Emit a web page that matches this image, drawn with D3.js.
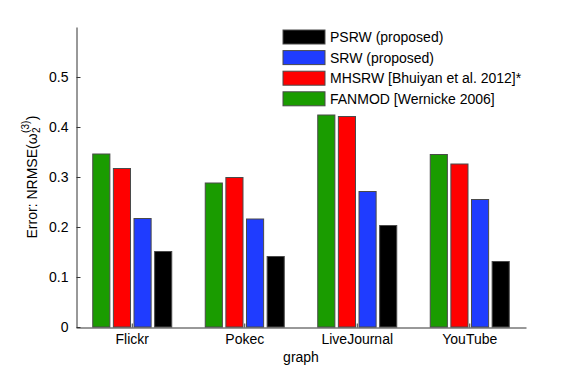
<!DOCTYPE html>
<html>
<head>
<meta charset="utf-8">
<script src="https://cdn.jsdelivr.net/npm/d3@7"></script>
<style>
  body { margin: 0; background: #fff; }
  svg { display: block; font-family: "Liberation Sans", Arial, Helvetica, sans-serif; }
</style>
</head>
<body>
<div id="chart"></div>
<script>
// data
var graphs = ['Flickr', 'Pokec', 'LiveJournal', 'YouTube'];
var methods = ['FANMOD', 'MHSRW', 'SRW', 'PSRW'];   // order of bars inside a group
var legendOrder = ['PSRW', 'SRW', 'MHSRW', 'FANMOD'];
var legendLabels = {
	PSRW: 'PSRW (proposed)',
	SRW: 'SRW (proposed)',
	MHSRW: 'MHSRW [Bhuiyan et al. 2012]*',
	FANMOD: 'FANMOD [Wernicke 2006]'
};
var colors = { FANMOD: '#1a9c00', MHSRW: '#ff0000', SRW: '#1f3cff', PSRW: '#000000' };

var fanmod = [0.346, 0.288, 0.424, 0.345];
var mhsrw  = [0.317, 0.299, 0.421, 0.326];
var srw    = [0.217, 0.216, 0.271, 0.255];
var psrw   = [0.151, 0.141, 0.203, 0.131];
var yTicks = [0, 0.1, 0.2, 0.3, 0.4, 0.5];

var values = { FANMOD: fanmod, MHSRW: mhsrw, SRW: srw, PSRW: psrw };

var W = 581, H = 369;
var svg = d3.select('#chart').append('svg')
	.attr('width', W)
	.attr('height', H);

// scales
var x0 = d3.scaleBand().domain(graphs).range([76, 526]);
var x1 = d3.scaleBand().domain(methods).range([-39.5, 39.5]).paddingInner(0.17);
var y = d3.scaleLinear().domain([0, 0.6]).range([327, 27]);

// bars
graphs.forEach(function(g, gi) {
	var cx = x0(g) + x0.bandwidth() / 2;
	methods.forEach(function(m) {
		svg.append('rect')
			.attr('x', cx + x1(m))
			.attr('y', y(values[m][gi]))
			.attr('width', x1.bandwidth())
			.attr('height', y(0) - y(values[m][gi]))
			.style('fill', colors[m])
			.style('stroke', '#4a4a4a')
			.style('stroke-width', 1);
	});
});

// y axis
var yAxis = d3.axisLeft(y)
	.tickValues(yTicks)
	.tickFormat(function(d) { return d === 0 ? '0' : d3.format('.1f')(d); })
	.tickSizeInner(-4)
	.tickSizeOuter(0)
	.tickPadding(8);
var gy = svg.append('g')
	.attr('transform', 'translate(76.5,0)')
	.call(yAxis);
gy.select('.domain').attr('stroke', '#333');
gy.selectAll('.tick line').attr('stroke', '#333');
gy.selectAll('.tick text').style('font-size', '14px').attr('fill', '#000');

// x axis
var xAxis = d3.axisBottom(x0)
	.tickSizeInner(-4)
	.tickSizeOuter(0)
	.tickPadding(7);
var gx = svg.append('g')
	.attr('transform', 'translate(0,327.5)')
	.call(xAxis);
gx.select('.domain').attr('stroke', '#333');
gx.selectAll('.tick line').attr('stroke', '#333');
gx.selectAll('.tick text').style('font-size', '14px').attr('fill', '#000');

// x label
svg.append('text')
	.attr('x', 301)
	.attr('y', 362)
	.attr('text-anchor', 'middle')
	.style('font-size', '14px')
	.text('graph');

// y label with stacked sub/superscript
var yl = svg.append('g').attr('transform', 'translate(37,177) rotate(-90)');
var t1 = yl.append('text').style('font-size', '14px').text('Error: NRMSE(\u03c9');
var w1 = t1.node().getComputedTextLength();
var sub = yl.append('text').style('font-size', '10px').attr('y', 3).text('2');
var sup = yl.append('text').style('font-size', '10px').attr('y', -8).text('(3)');
var wSub = sub.node().getComputedTextLength();
var wSup = sup.node().getComputedTextLength();
var wScript = Math.max(wSub, wSup);
var close = yl.append('text').style('font-size', '14px').text(')');
var total = w1 + wScript + close.node().getComputedTextLength() + 1;
var x0l = -total / 2;
t1.attr('x', x0l);
sub.attr('x', x0l + w1 + 0.5);
sup.attr('x', x0l + w1 + 0.5);
close.attr('x', x0l + w1 + wScript + 1);

// legend
var legend = svg.append('g');
legendOrder.forEach(function(m, i) {
	var cy = 37 + i * 20.6;
	legend.append('rect')
		.attr('x', 283)
		.attr('y', cy - 7)
		.attr('width', 42)
		.attr('height', 14)
		.style('fill', colors[m])
		.style('stroke', '#4a4a4a')
		.style('stroke-width', 1);
	legend.append('text')
		.attr('x', 330)
		.attr('y', cy + 5)
		.style('font-size', '14px')
		.text(legendLabels[m]);
});
</script>
</body>
</html>
